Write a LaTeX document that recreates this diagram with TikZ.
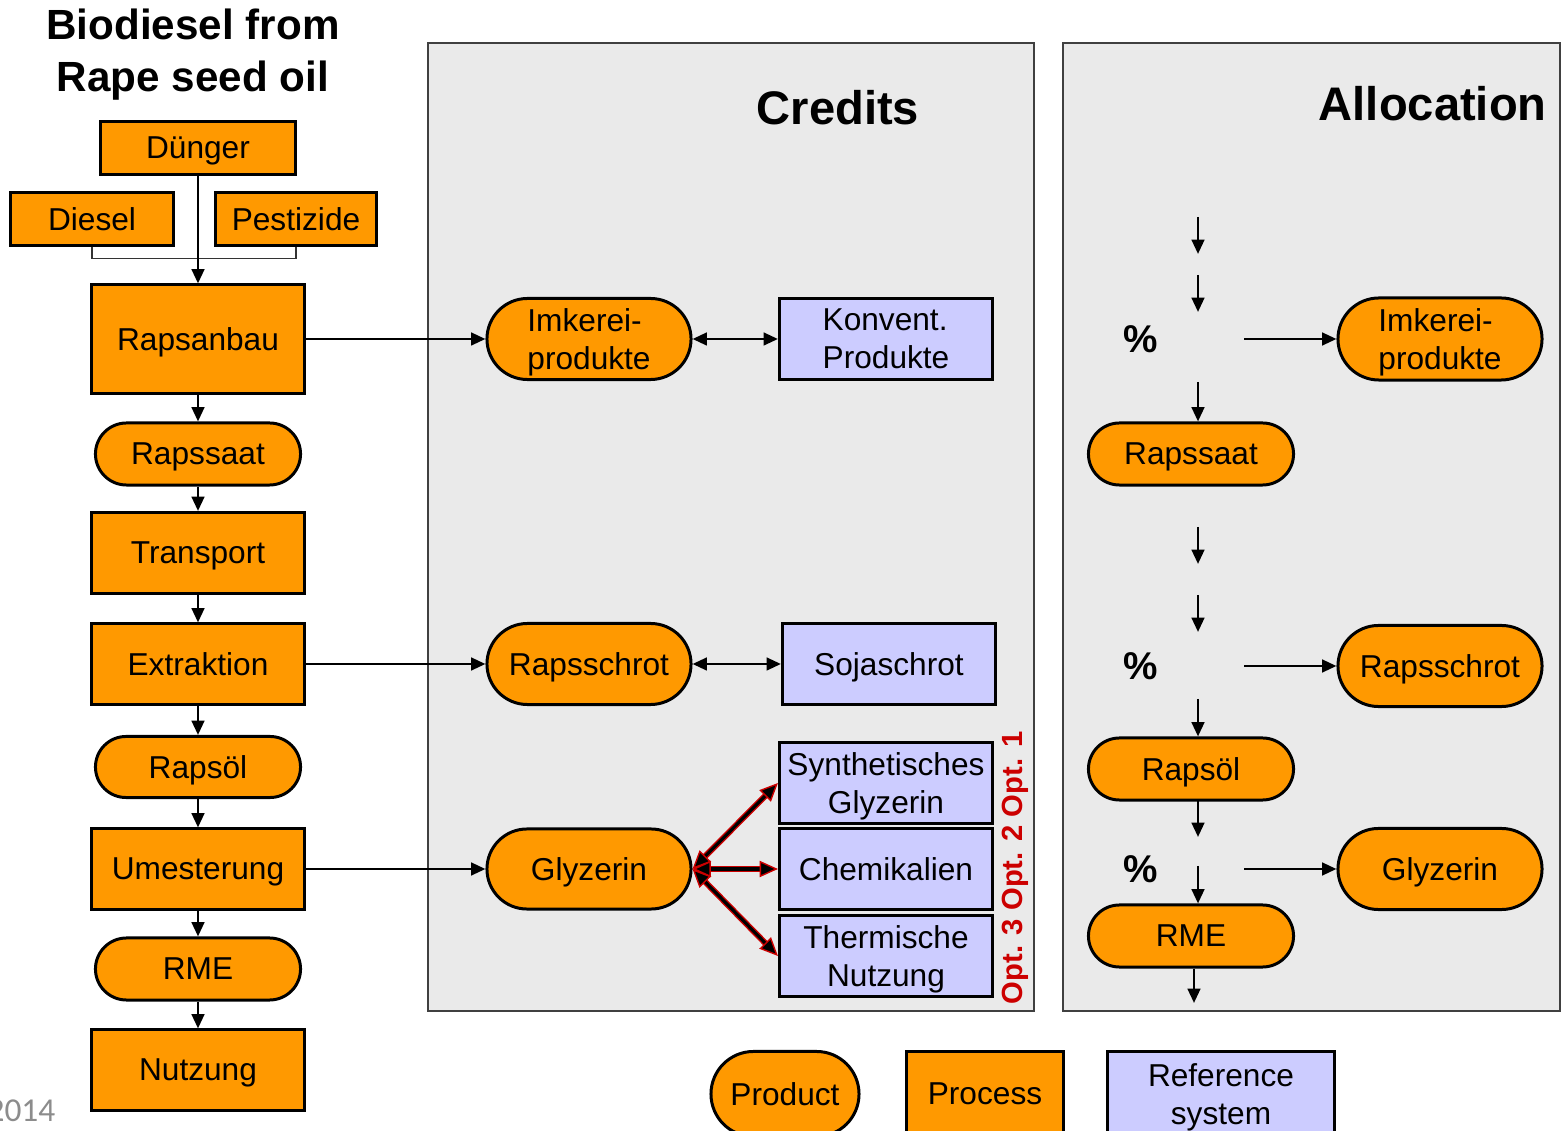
\documentclass[tikz,border=0pt]{standalone}
\usepackage{fontspec}
\setmainfont{Liberation Sans}
\newfontfamily\yearfont{Carlito}
\usetikzlibrary{arrows.meta,shapes.misc}
\definecolor{procorange}{RGB}{255,153,0}
\definecolor{reflilac}{RGB}{204,204,255}
\definecolor{panelgray}{RGB}{234,234,234}
\definecolor{optred}{RGB}{204,0,0}
\tikzset{proc/.style={draw,line width=0.85pt,fill=procorange,inner sep=1pt,text depth=0pt,align=center,font=\fontsize{9}{10.8}\selectfont}}
\tikzset{prod/.style={proc,rounded rectangle}}
\tikzset{refsys/.style={proc,fill=reflilac}}
\tikzset{flow/.style={line width=0.75pt,-{Triangle[length=4.1pt,width=3.6pt]}}}
\tikzset{twoway/.style={line width=0.75pt,{Triangle[length=4.1pt,width=3.6pt]}-{Triangle[length=4.1pt,width=3.6pt]}}}
\tikzset{optarrow/.style={draw=optred,double=black,double distance=0.9pt,line width=0.4pt,{Triangle[length=5.2pt,width=4.6pt,fill=black]}-{Triangle[length=5.2pt,width=4.6pt,fill=black]}}}
\tikzset{panel/.style={draw=black!75,line width=0.6pt,fill=panelgray}}
\begin{document}
\begin{tikzpicture}[x=0.01cm,y=-0.01cm]
	\useasboundingbox (0,0) rectangle (1563,1131);
	% panels
	\draw[panel] (428,43) rectangle (1034,1011);
	\draw[panel] (1063,43) rectangle (1560,1011);
	\node[font=\bfseries\fontsize{13.4}{16}\selectfont] (credits) at (838,108) {Credits};
	\node[font=\bfseries\fontsize{13.4}{16}\selectfont,anchor=east] (alloc) at (1559,104) {Allocation};
	\node[font=\bfseries\fontsize{12}{14.8}\selectfont,align=center] (title) at (193,55) {Biodiesel from\\Rape seed oil};
	\node[font=\yearfont\fontsize{9.5}{11}\selectfont,text=black!45,anchor=base east,inner sep=0pt] (year) at (56,1121) {2014};

	% life cycle
	\node[proc,minimum width=1.95cm,minimum height=0.53cm] (duenger) at (198,148) {Dünger};
	\node[proc,minimum width=1.62cm,minimum height=0.52cm] (diesel) at (92,219) {Diesel};
	\node[proc,minimum width=1.61cm,minimum height=0.52cm] (pest) at (296,219) {Pestizide};
	\node[proc,minimum width=2.12cm,minimum height=1.08cm] (anbau) at (198,339) {Rapsanbau};
	\node[prod,minimum width=2.12cm,minimum height=0.62cm] (saat) at (198,454) {Rapssaat};
	\node[proc,minimum width=2.12cm,minimum height=0.81cm] (trans) at (198,553) {Transport};
	\node[proc,minimum width=2.12cm,minimum height=0.80cm] (extr) at (198,664) {Extraktion};
	\node[prod,minimum width=2.12cm,minimum height=0.61cm] (oel) at (198,767) {Rapsöl};
	\node[proc,minimum width=2.12cm,minimum height=0.80cm] (umest) at (198,869) {Umesterung};
	\node[prod,minimum width=2.12cm,minimum height=0.62cm] (rme) at (198,969) {RME};
	\node[proc,minimum width=2.12cm,minimum height=0.80cm] (nutz) at (198,1070) {Nutzung};
	\draw[line width=0.5pt,black!80] (diesel.south) -- ++(0,12) -| (pest.south);
	\draw[flow] (duenger.south) -- (anbau.north);
	\foreach \a/\b in {anbau/saat,saat/trans,trans/extr,extr/oel,oel/umest,umest/rme,rme/nutz}{
		\draw[flow] (\a.south) -- (\b.north);
	}

	% credits
	\node[prod,minimum width=2.11cm,minimum height=0.81cm,align=left] (imkC) at (589,339) {Imkerei-\\produkte};
	\node[refsys,minimum width=2.13cm,minimum height=0.81cm,align=left] (konv) at (886,339) {Konvent.\\Produkte};
	\node[prod,minimum width=2.11cm,minimum height=0.81cm] (schrotC) at (589,664) {Rapsschrot};
	\node[refsys,minimum width=2.13cm,minimum height=0.81cm] (soja) at (889,664) {Sojaschrot};
	\node[prod,minimum width=2.11cm,minimum height=0.80cm] (glyC) at (589,869) {Glyzerin};
	\node[refsys,minimum width=2.13cm,minimum height=0.81cm] (synth) at (886,783) {Synthetisches\\Glyzerin};
	\node[refsys,minimum width=2.13cm,minimum height=0.80cm] (chem) at (886,869) {Chemikalien};
	\node[refsys,minimum width=2.13cm,minimum height=0.80cm] (therm) at (886,956) {Thermische\\Nutzung};
	\node[rotate=90,text=optred,font=\bfseries\fontsize{8.3}{10}\selectfont] (opts) at (1015,868) {Opt. 3 Opt. 2 Opt. 1};
	\draw[flow] (anbau.east) -- (imkC.west);
	\draw[flow] (extr.east) -- (schrotC.west);
	\draw[flow] (umest.east) -- (glyC.west);
	\draw[twoway] (imkC.east) -- (konv.west);
	\draw[twoway] (schrotC.east) -- (soja.west);
	\foreach \t in {synth,chem,therm}{
		\draw[optarrow] (glyC.east) -- (\t.west);
	}

	% allocation
	\node[prod,minimum width=2.11cm,minimum height=0.82cm,align=left] (imkA) at (1440,339) {Imkerei-\\produkte};
	\node[prod,minimum width=2.12cm,minimum height=0.62cm] (saatA) at (1191,454) {Rapssaat};
	\node[prod,minimum width=2.11cm,minimum height=0.81cm] (schrotA) at (1440,666) {Rapsschrot};
	\node[prod,minimum width=2.12cm,minimum height=0.62cm] (oelA) at (1191,769) {Rapsöl};
	\node[prod,minimum width=2.11cm,minimum height=0.81cm] (glyA) at (1440,869) {Glyzerin};
	\node[prod,minimum width=2.12cm,minimum height=0.62cm] (rmeA) at (1191,936) {RME};
	\coordinate (col) at (1198,0);
	\foreach \n/\y in {1/217,2/275,3/527,4/595,5/800}{
		\coordinate (in\n) at (1198,\y);
		\coordinate (to\n) at (1198,\y+37);
		\draw[flow] (in\n) -- (to\n);
	}
	\coordinate (in6) at (1198,382);
	\coordinate (in7) at (1198,699);
	\coordinate (in8) at (1198,866);
	\draw[flow] (in6) -- (saatA.north -| col);
	\draw[flow] (in7) -- (oelA.north -| col);
	\draw[flow] (in8) -- (rmeA.north -| col);
	\coordinate (out) at (1194,1003);
	\draw[flow] (rmeA.south -| out) -- (out);
	\foreach \n/\y/\p in {1/339/imkA,2/666/schrotA,3/869/glyA}{
		\node[font=\bfseries\fontsize{11}{13}\selectfont] (pct\n) at (1141,\y) {\%};
		\coordinate (pa\n) at (1244,\y);
		\draw[flow] (pa\n) -- (\p.west);
	}

	% legend
	\node[prod,minimum width=1.55cm,minimum height=0.85cm] (legprod) at (785,1094) {Product};
	\node[proc,minimum width=1.56cm,minimum height=0.85cm] (legproc) at (985,1094) {Process};
	\node[refsys,minimum width=2.26cm,minimum height=0.85cm] (legref) at (1221,1094) {Reference\\system};
\end{tikzpicture}
\end{document}
